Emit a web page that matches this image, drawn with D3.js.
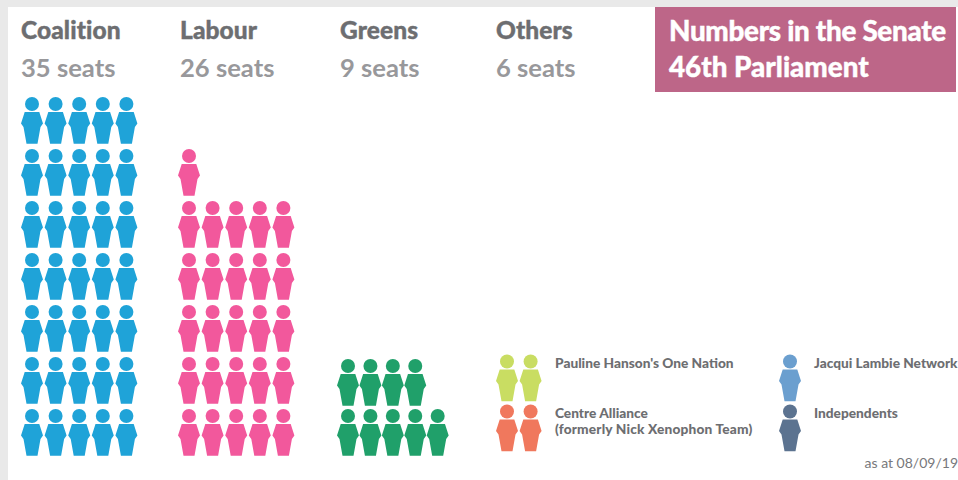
<!DOCTYPE html>
<html>
<head>
<meta charset="utf-8">
<script src="https://cdn.jsdelivr.net/npm/d3@7"></script>
<style>
  html, body { margin: 0; padding: 0; background: #e9e9e9; }
  svg { display: block; }
  text { font-family: Lato, "Open Sans", sans-serif; }
</style>
</head>
<body>
<svg id="chart" width="958" height="480"></svg>
<script>
// Seats per party
const parties = ["Coalition", "Labour", "Greens"];
const seats = [35, 26, 9];
const partyColors = ["#1fa3d8", "#f2589c", "#20a06a"];

// Column headings
const headings = ["Coalition", "Labour", "Greens", "Others"];
const seatLabels = ["35 seats", "26 seats", "9 seats", "6 seats"];

// The "Others" seats
const otherNames = [
    ["Pauline Hanson's One Nation"],
    ["Centre Alliance", "(formerly Nick Xenophon Team)"],
    ["Jacqui Lambie Network"],
    ["Independents"]
];
const otherSeats = [2, 2, 1, 1];
const otherColors = ["#c9dd62", "#f0785d", "#6b9fcf", "#5c7390"];

const titleLines = ["Numbers in the Senate", "46th Parliament"];
const footnote = "as at 08/09/19";

const svg = d3.select("#chart");

// White panel
svg.append("rect")
    .attr("x", 8)
    .attr("y", 7)
    .attr("width", 950)
    .attr("height", 473)
    .attr("fill", "#fff");

// One seat, drawn around the middle of the head
const personPath = "M-7.3,8 L7.3,8 L11,19.5 L8.5,23 L5.5,39.7 L-5.5,39.7 L-8.5,23 L-11,19.5 Z";

function drawPerson(g, cx, cy, color) {
    const person = g.append("g")
        .attr("transform", `translate(${cx}, ${cy})`)
        .attr("fill", color);
    person.append("circle").attr("r", 7);
    person.append("path").attr("d", personPath);
}

// Scales for the seat grid
const perRow = 5;
const partyX = d3.scaleOrdinal().domain(parties).range([32, 189, 348]);
const colX = d3.scaleLinear().domain([0, 1]).range([0, 23.6]);
const rowY = d3.scaleLinear().domain([0, 6]).range([416, 104]);

parties.forEach((party, i) => {
    const g = svg.append("g").attr("class", "party");
    d3.range(seats[i]).forEach(n => {
        const col = n % perRow;
        const row = Math.floor(n / perRow);
        // Greens sit a little tighter than the other two blocks
        const step = party === "Greens" ? 0.95 : 1;
        const nudge = party === "Greens" && row === 1 ? 2 : 0;
        drawPerson(g, partyX(party) + colX(col) * step, rowY(row) + nudge, partyColors[i]);
    });
});

// Headings
const headX = d3.scaleOrdinal().domain(headings).range([21, 180, 340, 496]);

svg.append("g").selectAll("text")
    .data(headings)
    .enter()
    .append("text")
    .attr("x", d => headX(d))
    .attr("y", 39)
    .attr("font-size", 24.5)
    .attr("font-weight", 900)
    .attr("letter-spacing", 0.1)
    .attr("fill", "#6d6e71")
    .attr("stroke", "#6d6e71")
    .attr("stroke-width", 0.4)
    .text(d => d);

svg.append("g").selectAll("text")
    .data(seatLabels)
    .enter()
    .append("text")
    .attr("x", (d, i) => headX(headings[i]))
    .attr("y", 77)
    .attr("font-size", 25.6)
    .attr("font-weight", 700)
    .attr("fill", "#98989b")
    .text(d => d);

// Title box
svg.append("rect")
    .attr("x", 655)
    .attr("y", 7)
    .attr("width", 301)
    .attr("height", 85)
    .attr("fill", "#bd6688");

svg.append("g").selectAll("text")
    .data(titleLines)
    .enter()
    .append("text")
    .attr("x", 669)
    .attr("y", (d, i) => 40.5 + i * 36.7)
    .attr("font-size", 27.8)
    .attr("font-weight", 900)
    .attr("letter-spacing", (d, i) => i === 0 ? -0.3 : 0)
    .attr("fill", "#fff")
    .attr("stroke", "#fff")
    .attr("stroke-width", 0.4)
    .text(d => d);

// Others key
const keyIconX = [507, 507, 790, 790];
const keyIconY = [361.5, 411.5, 361.5, 411.5];
const keyTextX = [555, 555, 814, 814];

otherNames.forEach((lines, i) => {
    const g = svg.append("g").attr("class", "other");
    d3.range(otherSeats[i]).forEach(n => {
        drawPerson(g, keyIconX[i] + n * 23.6, keyIconY[i], otherColors[i]);
    });
    g.selectAll("text")
        .data(lines)
        .enter()
        .append("text")
        .attr("x", keyTextX[i])
        .attr("y", (d, j) => keyIconY[i] + 6.5 + j * 15.5)
        .attr("font-size", 13.7)
        .attr("font-weight", 900)
        .attr("letter-spacing", (d, j) => j === 1 ? 0.17 : 0)
        .attr("fill", "#6d6e71")
        .text(d => d);
});

svg.append("text")
    .attr("x", 958)
    .attr("y", 468)
    .attr("text-anchor", "end")
    .attr("font-size", 14)
    .attr("fill", "#77787b")
    .text(footnote);
</script>
</body>
</html>
